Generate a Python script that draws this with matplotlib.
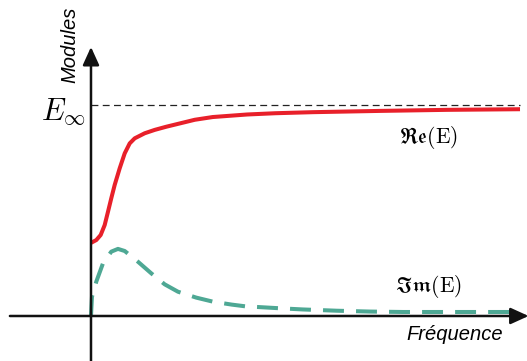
import matplotlib
matplotlib.use('Agg')
import matplotlib.pyplot as plt

plt.rcParams['mathtext.fontset'] = 'cm'

# -----------------------------
# data (frequency in arbitrary units, modulus / E_inf)
freq_re = [0.0, 0.023, 0.124, 0.226, 0.319, 0.396, 0.473, 0.552, 0.669, 0.786, 0.902, 1.019,
           1.252, 1.485, 1.755, 2.42, 2.84, 3.64, 4.3, 5.18, 6.74, 8.3, 10.0]
mod_re = [0.347, 0.349, 0.360, 0.384, 0.431, 0.494, 0.558, 0.621, 0.700, 0.771, 0.818, 0.842,
          0.866, 0.882, 0.897, 0.930, 0.943, 0.955, 0.961, 0.966, 0.972, 0.977, 0.98]

freq_im = [0.0, 0.023, 0.124, 0.28, 0.473, 0.629, 0.786, 1.096, 1.406, 1.718, 2.028, 2.455,
           2.84, 3.28, 3.59, 4.45, 4.94, 5.73, 6.50, 7.27, 10.0]
mod_im = [0.0, 0.091, 0.163, 0.250, 0.305, 0.318, 0.308, 0.257, 0.202, 0.150, 0.115, 0.087,
          0.068, 0.054, 0.046, 0.036, 0.031, 0.025, 0.021, 0.019, 0.019]

e_inf = 1.0
f_max = 10.0

# -----------------------------
# figure: one axes over the whole canvas, drawn by hand
fig = plt.figure(figsize=(5.27, 3.61), dpi=100)
ax = fig.add_axes([0, 0, 1, 1])
ax.set_xlim(-2.121, 10.163)
ax.set_ylim(-0.2133, 1.4976)
ax.axis('off')

red = '#e8202a'
green = '#4ea894'

# asymptote
ax.plot([0, f_max], [e_inf, e_inf], color='#222222', lw=0.9, dashes=(5.5, 3.5))

# curves
ax.plot(freq_re, mod_re, color=red, lw=2.9, solid_capstyle='butt', solid_joinstyle='round')
ax.plot(freq_im, mod_im, color=green, lw=2.9, dashes=(5.2, 3.0), dash_capstyle='butt',
        dash_joinstyle='round')

# hand-drawn axes with arrows
arrow = dict(arrowstyle='-|>,head_length=0.55,head_width=0.25', lw=1.8, color='#111111',
             mutation_scale=20, shrinkA=0, shrinkB=0)
ax.annotate('', xy=(0, 1.275), xytext=(0, -0.22), arrowprops=arrow, annotation_clip=False)
ax.annotate('', xy=(10.2, 0), xytext=(-1.89, 0), arrowprops=arrow, annotation_clip=False)

# labels
ax.text(-0.49, 1.284, 'Modules', rotation=90, ha='center', va='center',
        fontsize=14.5, style='italic', family='Liberation Sans')
ax.text(8.48, -0.09, 'Fréquence', ha='center', va='center',
        fontsize=14.5, style='italic', family='Liberation Sans')
ax.text(-0.12, 0.929, r'$E_\infty$', ha='right', va='baseline', fontsize=22)
ax.text(7.86, 0.844, r'$\mathfrak{Re}(\mathrm{E})$', ha='center', va='center', fontsize=15.5)
ax.text(7.86, 0.142, r'$\mathfrak{Im}(\mathrm{E})$', ha='center', va='center', fontsize=15.5)

fig.savefig('out.png', dpi=100)
